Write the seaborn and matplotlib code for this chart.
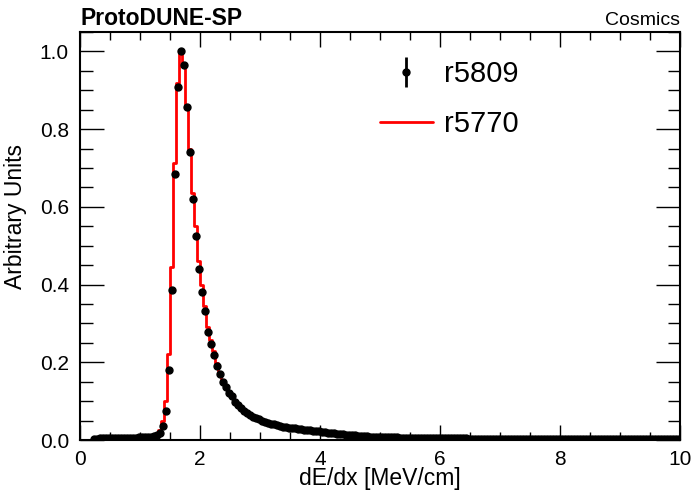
import numpy as np
import pandas as pd
import matplotlib
matplotlib.use("Agg")
import matplotlib.pyplot as plt
from matplotlib.ticker import MultipleLocator
import seaborn as sns

# ---- data ----
bin_width = 0.05
bin_range = (0.0, 10.0)
bin_centers = np.round(np.arange(200) * bin_width + bin_width / 2, 3)

r5809 = [
    np.nan, np.nan, np.nan, np.nan, 0.002, 0.003, 0.004, 0.004, 0.005, 0.005,
    0.006, 0.006, 0.006, 0.006, 0.006, 0.006, 0.006, 0.006, 0.006, 0.007,
    0.007, 0.007, 0.008, 0.009, 0.011, 0.014, 0.019, 0.036, 0.075, 0.180,
    0.385, 0.684, 0.908, 1.000, 0.964, 0.856, 0.741, 0.620, 0.526, 0.440,
    0.380, 0.331, 0.278, 0.246, 0.218, 0.190, 0.169, 0.149, 0.137, 0.122,
    0.112, 0.099, 0.090, 0.082, 0.074, 0.069, 0.064, 0.060, 0.056, 0.053,
    0.050, 0.047, 0.045, 0.042, 0.040, 0.038, 0.036, 0.034, 0.033, 0.032,
    0.031, 0.030, 0.029, 0.028, 0.027, 0.026, 0.025, 0.024, 0.023, 0.022,
    0.021, 0.020, 0.019, 0.018, 0.017, 0.016, 0.016, 0.015, 0.014, 0.013,
    0.013, 0.012, 0.011, 0.011, 0.010, 0.010, 0.009, 0.009, 0.009, 0.008,
    0.008, 0.008, 0.007, 0.007, 0.007, 0.007, 0.006, 0.006, 0.006, 0.006,
    0.006, 0.005, 0.005, 0.005, 0.005, 0.005, 0.005, 0.004, 0.004, 0.004,
    0.004, 0.004, 0.004, 0.004, 0.004, 0.004, 0.004, 0.004, 0.004, 0.003,
    0.003, 0.003, 0.003, 0.003, 0.003, 0.003, 0.003, 0.003, 0.003, 0.003,
    0.003, 0.003, 0.003, 0.003, 0.003, 0.003, 0.003, 0.003, 0.003, 0.003,
    0.003, 0.003, 0.003, 0.002, 0.002, 0.002, 0.002, 0.002, 0.002, 0.002,
    0.002, 0.002, 0.002, 0.002, 0.002, 0.002, 0.002, 0.002, 0.002, 0.002,
    0.002, 0.002, 0.002, 0.002, 0.002, 0.002, 0.002, 0.002, 0.002, 0.002,
    0.002, 0.002, 0.002, 0.002, 0.002, 0.002, 0.002, 0.002, 0.002, 0.002,
    0.002, 0.002, 0.002, 0.002, 0.002, 0.002, 0.002, 0.002, 0.002, 0.002,
]

r5770 = [
    0.000, 0.000, 0.000, 0.001, 0.002, 0.003, 0.004, 0.004, 0.005, 0.005,
    0.006, 0.006, 0.006, 0.006, 0.006, 0.006, 0.006, 0.006, 0.007, 0.007,
    0.007, 0.008, 0.009, 0.010, 0.012, 0.016, 0.025, 0.049, 0.101, 0.221,
    0.444, 0.714, 0.919, 1.000, 0.964, 0.859, 0.750, 0.635, 0.550, 0.460,
    0.400, 0.345, 0.292, 0.258, 0.228, 0.198, 0.176, 0.155, 0.142, 0.127,
    0.116, 0.103, 0.093, 0.084, 0.076, 0.071, 0.066, 0.062, 0.058, 0.055,
    0.051, 0.048, 0.046, 0.043, 0.041, 0.039, 0.037, 0.035, 0.034, 0.033,
    0.032, 0.031, 0.030, 0.029, 0.028, 0.027, 0.026, 0.025, 0.024, 0.023,
    0.022, 0.021, 0.020, 0.019, 0.018, 0.017, 0.016, 0.015, 0.014, 0.014,
    0.013, 0.012, 0.012, 0.011, 0.011, 0.010, 0.010, 0.009, 0.009, 0.009,
    0.008, 0.008, 0.008, 0.007, 0.007, 0.007, 0.007, 0.006, 0.006, 0.006,
    0.006, 0.006, 0.005, 0.005, 0.005, 0.005, 0.005, 0.005, 0.004, 0.004,
    0.004, 0.004, 0.004, 0.004, 0.004, 0.004, 0.004, 0.004, 0.004, 0.003,
    0.003, 0.003, 0.003, 0.003, 0.003, 0.003, 0.003, 0.003, 0.003, 0.003,
    0.003, 0.003, 0.003, 0.003, 0.003, 0.003, 0.003, 0.003, 0.003, 0.003,
    0.003, 0.003, 0.003, 0.002, 0.002, 0.002, 0.002, 0.002, 0.002, 0.002,
    0.002, 0.002, 0.002, 0.002, 0.002, 0.002, 0.002, 0.002, 0.002, 0.002,
    0.002, 0.002, 0.002, 0.002, 0.002, 0.002, 0.002, 0.002, 0.002, 0.002,
    0.002, 0.002, 0.002, 0.002, 0.002, 0.002, 0.002, 0.002, 0.002, 0.002,
    0.002, 0.002, 0.002, 0.002, 0.002, 0.002, 0.002, 0.002, 0.002, 0.002,
]

x_ticks = [0, 2, 4, 6, 8, 10]
y_ticks = [0.0, 0.2, 0.4, 0.6, 0.8, 1.0]

df = pd.DataFrame({"dedx": bin_centers, "r5809": r5809, "r5770": r5770})

# ---- style ----
sns.set_theme(style="white")
plt.rcParams["font.family"] = ["Liberation Sans", "DejaVu Sans"]
plt.rcParams["text.color"] = "black"
plt.rcParams["axes.labelcolor"] = "black"
plt.rcParams["xtick.color"] = "black"
plt.rcParams["ytick.color"] = "black"

fig = plt.figure(figsize=(6.93, 4.93), dpi=100)
ax = fig.add_axes([80 / 693, 1 - 440 / 493, 600 / 693, 408 / 493])

sns.histplot(x=df["dedx"].values, weights=df["r5770"].values,
             binwidth=bin_width, binrange=bin_range,
             element="step", fill=False, color="#ff0000", linewidth=2.0,
             ax=ax, label="r5770", zorder=2)

pts = df.dropna()
err = np.sqrt(pts["r5809"].values) * 0.004
ax.errorbar(pts["dedx"], pts["r5809"], yerr=err, fmt="o", color="black",
            markersize=5.0, elinewidth=2, capsize=0, zorder=3, label="r5809")

ax.set_xlim(0, 10)
ax.set_ylim(0, 1.05)
ax.set_xticks(x_ticks)
ax.set_yticks(y_ticks)
ax.set_xticklabels([str(v) for v in x_ticks])
ax.set_yticklabels([f"{v:.1f}" for v in y_ticks])
ax.xaxis.set_minor_locator(MultipleLocator(0.5))
ax.yaxis.set_minor_locator(MultipleLocator(0.05))
ax.tick_params(which="both", direction="in", top=True, right=True,
               bottom=True, left=True, labelsize=15, color="black",
               labelcolor="black", width=1)
ax.tick_params(axis="x", which="both", pad=7)
ax.tick_params(axis="y", which="both", pad=8)
ax.tick_params(axis="x", which="major", length=11)
ax.tick_params(axis="x", which="minor", length=6)
ax.tick_params(axis="y", which="major", length=17)
ax.tick_params(axis="y", which="minor", length=9)
for s in ax.spines.values():
    s.set_color("black")
    s.set_linewidth(1.5)

ax.set_xlabel("dE/dx [MeV/cm]", fontsize=16.5, color="black")
ax.set_ylabel("Arbitrary Units", fontsize=16.5, color="black")
ax.xaxis.set_label_coords(0.5, -0.1115)
ax.xaxis.label.set_verticalalignment("baseline")
ax.yaxis.set_label_coords(-0.088, 0.549)

fig.text(80 / 693, 1 - 25 / 493, "ProtoDUNE-SP", fontsize=16.5,
         fontweight="bold", ha="left", va="baseline", color="black")
fig.text(680 / 693, 1 - 25 / 493, "Cosmics", fontsize=14,
         ha="right", va="baseline", color="black")

handles, labels = ax.get_legend_handles_labels()
order = [labels.index("r5809"), labels.index("r5770")]
leg = ax.legend([handles[i] for i in order], [labels[i] for i in order],
                loc="upper left", bbox_to_anchor=(0.5, 0.931), frameon=False,
                borderaxespad=0, borderpad=0,
                fontsize=21, handlelength=1.8, handletextpad=0.38,
                labelspacing=0.76, labelcolor="black")

fig.savefig("out.png", dpi=100)
